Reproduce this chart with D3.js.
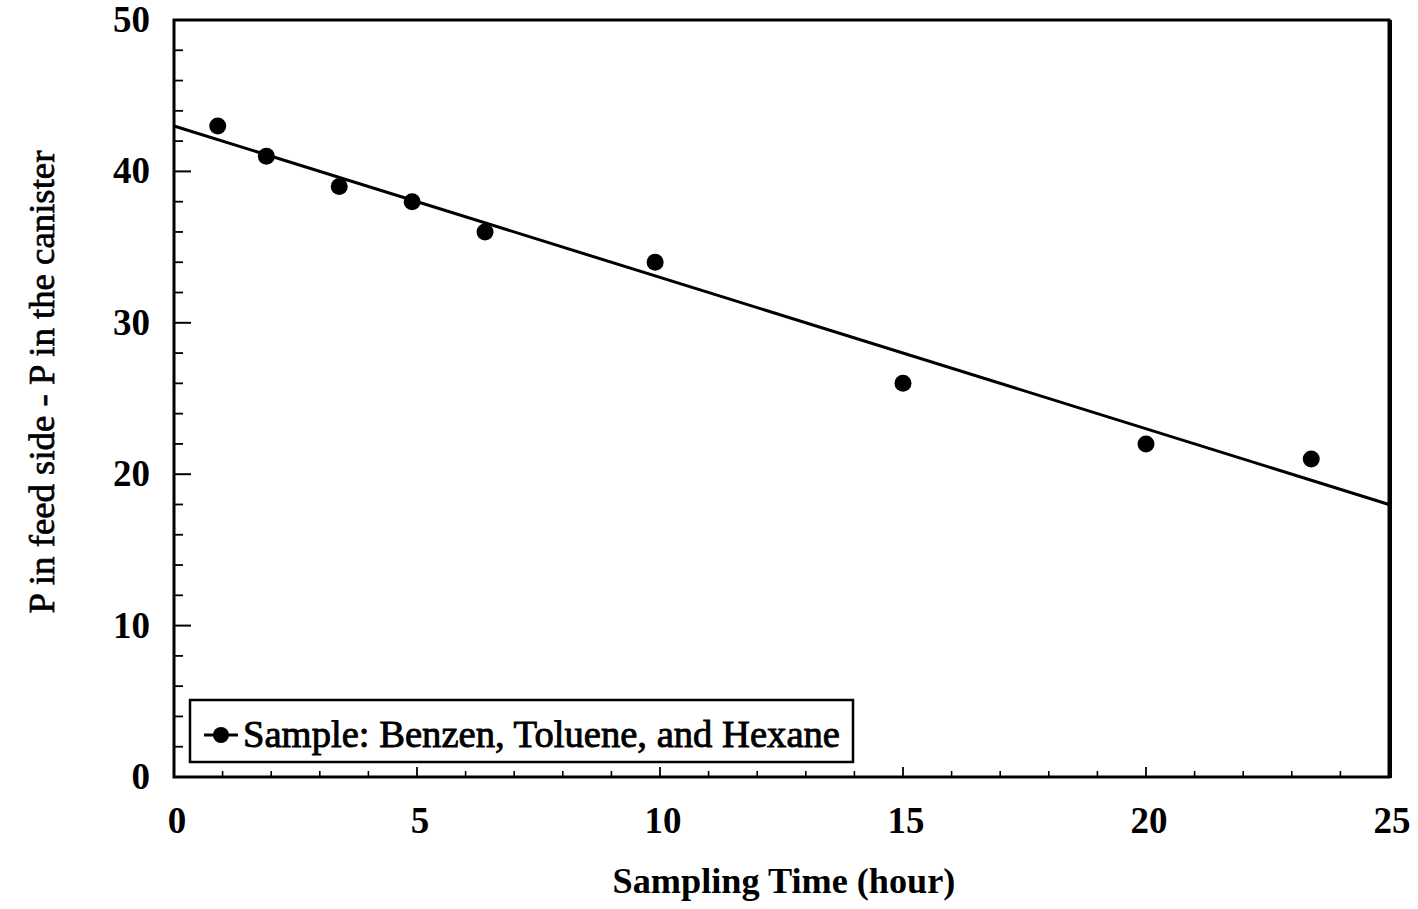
<!DOCTYPE html>
<html>
<head>
<meta charset="utf-8">
<script src="https://cdn.jsdelivr.net/npm/d3@7"></script>
<style>
  html, body { margin: 0; padding: 0; background: #fff; }
  svg { display: block; }
  text { font-family: "Liberation Serif", "Times New Roman", serif; fill: #000; }
</style>
</head>
<body>
<svg id="chart" width="1418" height="909"></svg>
<script>
// Pressure difference between feed side and canister over sampling time
const samplingHours = [0.9, 1.9, 3.4, 4.9, 6.4, 9.9, 15, 20, 23.4];
const pressureDiff  = [43, 41, 39, 38, 36, 34, 26, 22, 21];

// Linear fit drawn across the full x range
const fitIntercept = 43.0;
const fitSlope = -1.0;

const xTicks = [0, 5, 10, 15, 20, 25];
const yTicks = [0, 10, 20, 30, 40, 50];
const xTitle = "Sampling Time (hour)";
const yTitle = "P in feed side - P in the canister";
const legendLabel = "Sample: Benzen, Toluene, and Hexane";

const svg = d3.select("#chart");
const plot = { left: 174, right: 1389, top: 20, bottom: 777 };

const x = d3.scaleLinear().domain([0, 25]).range([plot.left, plot.right]);
const y = d3.scaleLinear().domain([0, 50]).range([plot.bottom, plot.top]);

// Fit a text element to a given ink width by scaling its font size
function fitWidth(sel, target) {
  const fs = +sel.attr("font-size");
  const w = sel.node().getComputedTextLength();
  sel.attr("font-size", fs * target / w);
}

// Minor ticks: every hour on x, every 2 units on y (ticks point inward)
const xMinor = d3.range(1, 25).filter(v => v % 5 !== 0);
const yMinor = d3.range(2, 50, 2).filter(v => v % 10 !== 0);

const gx = svg.append("g").attr("transform", `translate(0,${plot.bottom})`);
gx.selectAll("line.minor").data(xMinor).join("line")
  .attr("x1", d => x(d)).attr("x2", d => x(d))
  .attr("y1", 0).attr("y2", -6)
  .attr("stroke", "#000").attr("stroke-width", 1.6);
gx.selectAll("line.major").data(xTicks.slice(1, -1)).join("line")
  .attr("x1", d => x(d)).attr("x2", d => x(d))
  .attr("y1", 0).attr("y2", -10)
  .attr("stroke", "#000").attr("stroke-width", 1.8);
gx.selectAll("text").data(xTicks).join("text")
  .attr("x", d => x(d) + 3).attr("y", 56)
  .attr("text-anchor", "middle")
  .attr("font-size", 37).attr("font-weight", "bold")
  .text(d => d);

const gy = svg.append("g").attr("transform", `translate(${plot.left},0)`);
gy.selectAll("line.minor").data(yMinor).join("line")
  .attr("y1", d => y(d)).attr("y2", d => y(d))
  .attr("x1", 0).attr("x2", 9)
  .attr("stroke", "#000").attr("stroke-width", 1.8);
gy.selectAll("line.major").data(yTicks.slice(1, -1)).join("line")
  .attr("y1", d => y(d)).attr("y2", d => y(d))
  .attr("x1", 0).attr("x2", 17)
  .attr("stroke", "#000").attr("stroke-width", 2);
gy.selectAll("text").data(yTicks).join("text")
  .attr("x", -24).attr("y", d => y(d) + 12)
  .attr("text-anchor", "end")
  .attr("font-size", 37).attr("font-weight", "bold")
  .text(d => d);

// Plot frame
svg.append("rect")
  .attr("x", plot.left).attr("y", plot.top)
  .attr("width", plot.right - plot.left).attr("height", plot.bottom - plot.top)
  .attr("fill", "none").attr("stroke", "#000").attr("stroke-width", 3);
svg.append("line")
  .attr("x1", plot.right + 1).attr("x2", plot.right + 1)
  .attr("y1", plot.top).attr("y2", plot.bottom + 1)
  .attr("stroke", "#000").attr("stroke-width", 4);

// Fitted line
const fitLine = d3.line().x(d => x(d)).y(d => y(fitIntercept + fitSlope * d));
svg.append("path")
  .datum([0, 25])
  .attr("d", fitLine)
  .attr("fill", "none").attr("stroke", "#000").attr("stroke-width", 3);

// Sample points
svg.append("g").selectAll("circle")
  .data(samplingHours.map((h, i) => [h, pressureDiff[i]]))
  .join("circle")
  .attr("cx", d => x(d[0])).attr("cy", d => y(d[1]))
  .attr("r", 8.5).attr("fill", "#000");

// Axis titles
const xt = svg.append("text")
  .attr("x", 784).attr("y", 893)
  .attr("text-anchor", "middle")
  .attr("font-size", 36).attr("font-weight", "bold")
  .text(xTitle);
fitWidth(xt, 343);

const yt = svg.append("text")
  .attr("transform", `translate(54,382) rotate(-90)`)
  .attr("text-anchor", "middle")
  .attr("font-size", 36)
  .attr("stroke", "#000").attr("stroke-width", 0.7)
  .text(yTitle);
fitWidth(yt, 463);

// Legend
const legend = svg.append("g");
legend.append("rect")
  .attr("x", 190).attr("y", 700).attr("width", 663).attr("height", 62)
  .attr("fill", "#fff").attr("stroke", "#000").attr("stroke-width", 2.5);
legend.append("line")
  .attr("x1", 204).attr("x2", 238).attr("y1", 735).attr("y2", 735)
  .attr("stroke", "#000").attr("stroke-width", 3);
legend.append("circle")
  .attr("cx", 221).attr("cy", 735).attr("r", 8).attr("fill", "#000");
const lt = legend.append("text")
  .attr("x", 243).attr("y", 747)
  .attr("font-size", 32)
  .attr("stroke", "#000").attr("stroke-width", 0.9)
  .text(legendLabel);
fitWidth(lt, 597);
</script>
</body>
</html>
